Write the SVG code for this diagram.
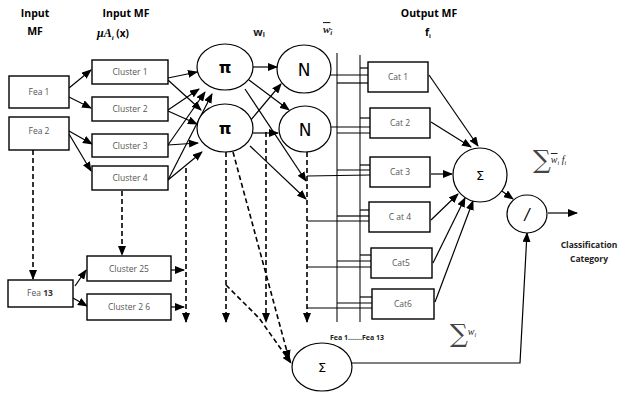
<svg xmlns="http://www.w3.org/2000/svg" width="622" height="394" viewBox="0 0 622 394">
<style>
.box{fill:#fff;stroke:#000;stroke-width:1.4}
.nd{fill:#fff;stroke:#000;stroke-width:1.2}
.lbl{font-family:"Open Sans","Liberation Sans",sans-serif;font-size:8.5px;fill:#555;text-anchor:middle}
.hd{font-family:"Open Sans","Liberation Sans",sans-serif;font-size:10.5px;font-weight:bold;fill:#000;text-anchor:middle}
.sm{font-family:"Open Sans","Liberation Sans",sans-serif;font-weight:bold;fill:#222;text-anchor:middle}
.sym{font-family:"DejaVu Sans","Liberation Sans",sans-serif;fill:#000;text-anchor:middle}
.ln{stroke:#000;stroke-width:1.2;fill:none}
.ar{stroke:#000;stroke-width:1.2;fill:none;marker-end:url(#ah)}
.da{stroke:#000;stroke-width:1.6;fill:none;stroke-dasharray:5,3;marker-end:url(#ah)}
.bus{stroke:#333;stroke-width:1.3;fill:none}
.mt{font-family:"Liberation Serif",serif;font-style:italic;fill:#222}
</style>
<defs>
<marker id="ah" markerUnits="userSpaceOnUse" markerWidth="10" markerHeight="8" refX="9" refY="4" orient="auto">
<path d="M0,0 L10,4 L0,8 z" fill="#000"/>
</marker>
</defs>

<g id="headers">
<text class="hd" x="35" y="17">Input</text>
<text class="hd" x="35" y="35">MF</text>
<text class="hd" x="126" y="17">Input MF</text>
<text x="97" y="37" font-family="Liberation Serif,serif" font-size="12" font-style="italic" font-weight="bold">μA<tspan font-size="7" dy="3">i</tspan><tspan dy="-3" font-family="Open Sans,Liberation Sans,sans-serif" font-style="normal" font-size="10"> (x)</tspan></text>
<text class="sm" x="259" y="36" style="font-size:11px">w<tspan style="font-size:7px" dy="1">i</tspan></text>
<text class="mt" x="323" y="33" font-size="11" font-weight="bold" text-decoration="overline">w<tspan font-size="7" dy="2">i</tspan></text>
<text class="hd" x="429" y="17">Output MF</text>
<text class="hd" x="428" y="36">f<tspan style="font-size:6px" dy="2">i</tspan></text>
</g>

<g id="connectors">
<line class="ar" x1="69" y1="88" x2="91" y2="70"/>
<line class="ar" x1="69" y1="97" x2="91" y2="108"/>
<line class="ar" x1="69" y1="131" x2="92" y2="144"/>
<line class="ar" x1="69" y1="134" x2="91" y2="171"/>
<line class="ar" x1="75" y1="286" x2="86" y2="270"/>
<line class="ar" x1="73" y1="298" x2="87" y2="306"/>
<line class="ar" x1="168" y1="78" x2="197" y2="72"/>
<line class="ar" x1="168" y1="80" x2="201" y2="110"/>
<line class="ar" x1="168" y1="110" x2="199" y2="89"/>
<line class="ar" x1="168" y1="111" x2="197" y2="124"/>
<line class="ar" x1="168" y1="145" x2="205" y2="92"/>
<line class="ar" x1="168" y1="145" x2="198" y2="143"/>
<line class="ar" x1="168" y1="180" x2="212" y2="94"/>
<line class="ar" x1="168" y1="180" x2="202" y2="152"/>
<line class="ar" x1="171" y1="270" x2="184" y2="270"/>
<line class="ar" x1="171" y1="307" x2="184" y2="307"/>
<line class="ar" x1="253" y1="67" x2="277" y2="67"/>
<line class="ar" x1="249" y1="80" x2="289" y2="110"/>
<line class="ar" x1="250" y1="121" x2="281" y2="84"/>
<line class="ar" x1="253" y1="133" x2="278" y2="133"/>
<line class="ar" x1="245" y1="89" x2="306" y2="181"/>
<line class="ar" x1="250" y1="146" x2="306" y2="199"/>
<line class="da" x1="33" y1="150" x2="33" y2="279"/>
<line class="da" x1="122" y1="191" x2="122" y2="255"/>
<line class="da" x1="186" y1="168" x2="186" y2="322"/>
<line class="da" x1="226" y1="152" x2="226" y2="322"/>
<polyline class="da" points="226,285 259,318 291,363"/>
<line class="da" x1="233" y1="152" x2="289" y2="359"/>
<line class="da" x1="266" y1="132" x2="266" y2="322"/>
<line class="da" x1="307" y1="152" x2="307" y2="322"/>
<line class="bus" x1="337" y1="53" x2="337" y2="322"/>
<line class="bus" x1="360" y1="55" x2="360" y2="322"/>
<line class="ln" x1="360" y1="68" x2="368" y2="68"/>
<line class="ln" x1="330" y1="75" x2="368" y2="75"/>
<line class="ln" x1="337" y1="83" x2="368" y2="83"/>
<line class="ln" x1="360" y1="118" x2="370" y2="118"/>
<line class="ln" x1="331" y1="127" x2="370" y2="127"/>
<line class="ln" x1="337" y1="133" x2="370" y2="133"/>
<line class="ln" x1="360" y1="165" x2="370" y2="165"/>
<line class="ln" x1="337" y1="170" x2="370" y2="170"/>
<line class="ln" x1="307" y1="176" x2="370" y2="175"/>
<line class="ln" x1="360" y1="210" x2="369" y2="210"/>
<line class="ln" x1="337" y1="216" x2="369" y2="216"/>
<line class="ln" x1="307" y1="221" x2="369" y2="221"/>
<line class="ln" x1="360" y1="255" x2="371" y2="255"/>
<line class="ln" x1="337" y1="261" x2="371" y2="261"/>
<line class="ln" x1="307" y1="267" x2="371" y2="267"/>
<line class="ln" x1="360" y1="297" x2="372" y2="297"/>
<line class="ln" x1="337" y1="303" x2="372" y2="303"/>
<line class="ln" x1="307" y1="308" x2="372" y2="308"/>
<line class="ar" x1="429" y1="75" x2="478" y2="146"/>
<line class="ar" x1="431" y1="122" x2="471" y2="147"/>
<line class="ar" x1="431" y1="174" x2="452" y2="174"/>
<line class="ar" x1="431" y1="220" x2="458" y2="194"/>
<line class="ar" x1="433" y1="263" x2="465" y2="198"/>
<line class="ar" x1="435" y1="302" x2="473" y2="201"/>
<line class="ar" x1="499" y1="189" x2="513" y2="199"/>
<line class="ar" x1="548" y1="213" x2="577" y2="213"/>
<polyline class="ar" points="352,363 520,363 527,233"/>
</g>

<g id="fea1"><rect class="box" x="9" y="76" width="60" height="32"/><text class="lbl" x="39" y="95">Fea 1</text></g>
<g id="fea2"><rect class="box" x="9" y="117" width="60" height="33"/><text class="lbl" x="39" y="134">Fea 2</text></g>
<g id="fea13"><rect class="box" x="8" y="280" width="65" height="27"/><text class="lbl" x="40" y="296">Fea <tspan font-weight="bold" fill="#333">13</tspan></text></g>
<g id="cluster1"><rect class="box" x="92" y="60" width="76" height="24"/><text class="lbl" x="130" y="75">Cluster 1</text></g>
<g id="cluster2"><rect class="box" x="92" y="97" width="76" height="24"/><text class="lbl" x="130" y="112">Cluster 2</text></g>
<g id="cluster3"><rect class="box" x="92" y="134" width="76" height="23"/><text class="lbl" x="130" y="149">Cluster 3</text></g>
<g id="cluster4"><rect class="box" x="92" y="166" width="76" height="24"/><text class="lbl" x="130" y="181">Cluster 4</text></g>
<g id="cluster25"><rect class="box" x="87" y="256" width="84" height="25"/><text class="lbl" x="129" y="272">Cluster 25</text></g>
<g id="cluster26"><rect class="box" x="87" y="294" width="84" height="26"/><text class="lbl" x="129" y="310">Cluster 2 6</text></g>

<g id="pi1"><ellipse class="nd" cx="225" cy="67" rx="28" ry="23"/><text class="sym" x="225" y="73" font-size="16" font-weight="bold">π</text></g>
<g id="pi2"><ellipse class="nd" cx="225" cy="128" rx="28" ry="24"/><text class="sym" x="225" y="134" font-size="16" font-weight="bold">π</text></g>
<g id="n1"><ellipse class="nd" cx="304" cy="69" rx="27" ry="24"/><text class="sym" x="304" y="76" font-size="17" fill="#333">N</text></g>
<g id="n2"><ellipse class="nd" cx="305" cy="129" rx="26" ry="23"/><text class="sym" x="305" y="136" font-size="17" fill="#333">N</text></g>

<g id="cat1"><rect class="box" x="368" y="62" width="60" height="30"/><text class="lbl" x="398" y="80">Cat 1</text></g>
<g id="cat2"><rect class="box" x="370" y="108" width="60" height="30"/><text class="lbl" x="400" y="126">Cat 2</text></g>
<g id="cat3"><rect class="box" x="370" y="157" width="60" height="30"/><text class="lbl" x="400" y="175">Cat 3</text></g>
<g id="cat4"><rect class="box" x="369" y="202" width="61" height="30"/><text class="lbl" x="400" y="220">C at 4</text></g>
<g id="cat5"><rect class="box" x="371" y="248" width="61" height="30"/><text class="lbl" x="401" y="266">Cat5</text></g>
<g id="cat6"><rect class="box" x="372" y="289" width="62" height="30"/><text class="lbl" x="403" y="307">Cat6</text></g>

<g id="sum1"><circle class="nd" cx="480" cy="175" r="27"/><text class="sym" x="480" y="180" font-size="13">Σ</text></g>
<g id="div"><ellipse class="nd" cx="527" cy="214" rx="20" ry="19"/><text class="sym" x="527" y="220" font-size="15" font-style="italic">/</text></g>
<g id="sum2"><ellipse class="nd" cx="322" cy="367" rx="30" ry="24"/><text class="sym" x="322" y="372" font-size="13">Σ</text></g>

<g id="labels">
<text class="sm" x="589" y="248" style="font-size:8.5px">Classification</text>
<text class="sm" x="589" y="262" style="font-size:8.5px">Category</text>
<text class="sm" x="357" y="340" style="font-size:7px">Fea 1.......Fea 13</text>
<text x="533" y="168" font-family="DejaVu Serif,serif" font-size="25" fill="#444">∑<tspan class="mt" font-size="10" dy="-5" text-decoration="overline">w</tspan><tspan class="mt" font-size="6" dy="2">i</tspan><tspan class="mt" font-size="10" dy="-2"> f</tspan><tspan class="mt" font-size="6" dy="2">i</tspan></text>
<text x="450" y="342" font-family="DejaVu Serif,serif" font-size="25" fill="#444">∑<tspan class="mt" font-size="10" dy="-7">w</tspan><tspan class="mt" font-size="6" dy="2">i</tspan></text>
</g>
</svg>
